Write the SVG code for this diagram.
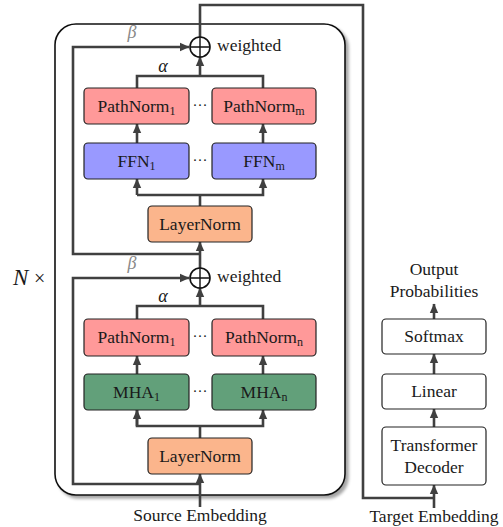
<svg xmlns="http://www.w3.org/2000/svg" width="503" height="527" viewBox="0 0 503 527">
  <style>
    text { font-family: "Liberation Serif", "Times New Roman", serif; fill: #1a1a1a; }
    .lbl { font-size: 17.5px; text-anchor: middle; }
    .sub { font-size: 12px; }
    .box { stroke: #222; stroke-width: 1.2; }
    .pn { fill: #ff9999; }
    .ffn { fill: #9999ff; }
    .mha { fill: #62a07a; }
    .ln { fill: #fbb58c; }
    .plain { fill: #ffffff; }
    .wire { fill: none; stroke: #404040; stroke-width: 2.6; stroke-linejoin: miter; }
    .arr { marker-end: url(#head); }
    .dots { font-size: 15px; text-anchor: middle; }
    .greek { font-style: italic; font-size: 18px; text-anchor: middle; }
  </style>
  <defs>
    <marker id="head" markerUnits="userSpaceOnUse" markerWidth="10" markerHeight="10" viewBox="0 0 10 10" refX="9" refY="5" orient="auto">
      <path d="M0,0.8 L9.5,5 L0,9.2 Z" fill="#404040"/>
    </marker>
    <filter id="shadow" x="-5%" y="-5%" width="115%" height="115%">
      <feDropShadow dx="3" dy="3" stdDeviation="1.6" flood-color="#000" flood-opacity="0.35"/>
    </filter>
  </defs>

  <!-- encoder block frame -->
  <rect x="55" y="24" width="290" height="471" rx="21" ry="21" fill="#fff" stroke="#111" stroke-width="1.6" filter="url(#shadow)"/>
  <text x="13" y="285" font-size="23" font-style="italic">N</text>
  <text x="34" y="285" font-size="20">×</text>

  <!-- connectors -->
  <g id="connectors">
    <!-- source input -->
    <path class="wire arr" d="M200,507 V474"/>
    <!-- residual around lower block -->
    <path class="wire arr" d="M200,484 H73 V278 H189"/>
    <!-- lower LayerNorm fan-out -->
    <path class="wire" d="M200,438 V426"/>
    <path class="wire arr" d="M137,410 V426 H263 V410"/>
    <path class="wire arr" d="M137,426 V410"/>
    <!-- MHA to PathNorm -->
    <path class="wire arr" d="M137,374 V356"/>
    <path class="wire arr" d="M263,374 V356"/>
    <!-- lower PathNorm merge -->
    <path class="wire" d="M137,319 V306 H263 V319"/>
    <path class="wire arr" d="M200,306 V288"/>
    <!-- lower sum into upper LayerNorm -->
    <path class="wire arr" d="M200,268 V242"/>
    <!-- residual around upper block -->
    <path class="wire arr" d="M200,254 H73 V47 H189"/>
    <!-- upper LayerNorm fan-out -->
    <path class="wire" d="M200,206 V195"/>
    <path class="wire arr" d="M137,195 H263 V179"/>
    <path class="wire arr" d="M137,195 V179"/>
    <!-- FFN to PathNorm -->
    <path class="wire arr" d="M137,143 V124"/>
    <path class="wire arr" d="M263,143 V124"/>
    <!-- upper PathNorm merge -->
    <path class="wire" d="M137,88 V76 H263 V88"/>
    <path class="wire arr" d="M200,76 V57"/>
    <!-- encoder output to decoder -->
    <path class="wire" d="M200,37 V5 H363 V498 H434"/>
    <path class="wire arr" d="M434,508 V485"/>
    <!-- decoder stack -->
    <path class="wire arr" d="M434,427 V409"/>
    <path class="wire arr" d="M434,374 V354"/>
    <path class="wire arr" d="M434,319 V304"/>
  </g>

  <!-- weights -->
  <text class="greek" x="132" y="38" fill="#888" style="fill:#888">β</text>
  <text class="greek" x="163" y="72">α</text>
  <text class="greek" x="132" y="269" style="fill:#888">β</text>
  <text class="greek" x="163" y="302">α</text>

  <!-- weighted sums -->
  <g id="sum-upper">
    <circle cx="200" cy="47" r="10" fill="#fff" stroke="#111" stroke-width="1.6"/>
    <path d="M190,47 H210 M200,37 V57" stroke="#111" stroke-width="1.4"/>
    <text x="217" y="51" font-size="17.5">weighted</text>
  </g>
  <g id="sum-lower">
    <circle cx="200" cy="278" r="10" fill="#fff" stroke="#111" stroke-width="1.6"/>
    <path d="M190,278 H210 M200,268 V288" stroke="#111" stroke-width="1.4"/>
    <text x="217" y="282" font-size="17.5">weighted</text>
  </g>

  <!-- upper (FFN) block -->
  <g id="pathnorm-ffn-1">
    <rect class="box pn" x="84" y="88" width="105" height="36" rx="4"/>
    <text class="lbl" x="136.5" y="112">PathNorm<tspan class="sub" dy="3">1</tspan></text>
  </g>
  <g id="pathnorm-ffn-m">
    <rect class="box pn" x="212" y="88" width="104" height="36" rx="4"/>
    <text class="lbl" x="264" y="112">PathNorm<tspan class="sub" dy="3">m</tspan></text>
  </g>
  <text class="dots" x="200" y="110">···</text>
  <g id="ffn-1">
    <rect class="box ffn" x="84" y="143" width="105" height="36" rx="4"/>
    <text class="lbl" x="136.5" y="167">FFN<tspan class="sub" dy="3">1</tspan></text>
  </g>
  <g id="ffn-m">
    <rect class="box ffn" x="212" y="143" width="104" height="36" rx="4"/>
    <text class="lbl" x="264" y="167">FFN<tspan class="sub" dy="3">m</tspan></text>
  </g>
  <text class="dots" x="200" y="165">···</text>
  <g id="layernorm-upper">
    <rect class="box ln" x="148" y="206" width="104" height="36" rx="4"/>
    <text class="lbl" x="200" y="230">LayerNorm</text>
  </g>

  <!-- lower (MHA) block -->
  <g id="pathnorm-mha-1">
    <rect class="box pn" x="84" y="319" width="105" height="37" rx="4"/>
    <text class="lbl" x="136.5" y="343">PathNorm<tspan class="sub" dy="3">1</tspan></text>
  </g>
  <g id="pathnorm-mha-n">
    <rect class="box pn" x="212" y="319" width="104" height="37" rx="4"/>
    <text class="lbl" x="264" y="343">PathNorm<tspan class="sub" dy="3">n</tspan></text>
  </g>
  <text class="dots" x="200" y="341">···</text>
  <g id="mha-1">
    <rect class="box mha" x="84" y="374" width="105" height="36" rx="4"/>
    <text class="lbl" x="136.5" y="398">MHA<tspan class="sub" dy="3">1</tspan></text>
  </g>
  <g id="mha-n">
    <rect class="box mha" x="212" y="374" width="104" height="36" rx="4"/>
    <text class="lbl" x="264" y="398">MHA<tspan class="sub" dy="3">n</tspan></text>
  </g>
  <text class="dots" x="200" y="396">···</text>
  <g id="layernorm-lower">
    <rect class="box ln" x="148" y="438" width="104" height="36" rx="4"/>
    <text class="lbl" x="200" y="462">LayerNorm</text>
  </g>

  <text class="lbl" x="200" y="521">Source Embedding</text>

  <!-- decoder side -->
  <g id="decoder">
    <rect class="box plain" x="382" y="427" width="104" height="58" rx="4"/>
    <text class="lbl" x="434" y="451">Transformer</text>
    <text class="lbl" x="434" y="473">Decoder</text>
  </g>
  <g id="linear">
    <rect class="box plain" x="382" y="374" width="104" height="35" rx="4"/>
    <text class="lbl" x="434" y="397">Linear</text>
  </g>
  <g id="softmax">
    <rect class="box plain" x="382" y="319" width="104" height="35" rx="4"/>
    <text class="lbl" x="434" y="342">Softmax</text>
  </g>
  <text class="lbl" x="434" y="275">Output</text>
  <text class="lbl" x="434" y="297">Probabilities</text>
  <text class="lbl" x="434" y="522">Target Embedding</text>
</svg>
